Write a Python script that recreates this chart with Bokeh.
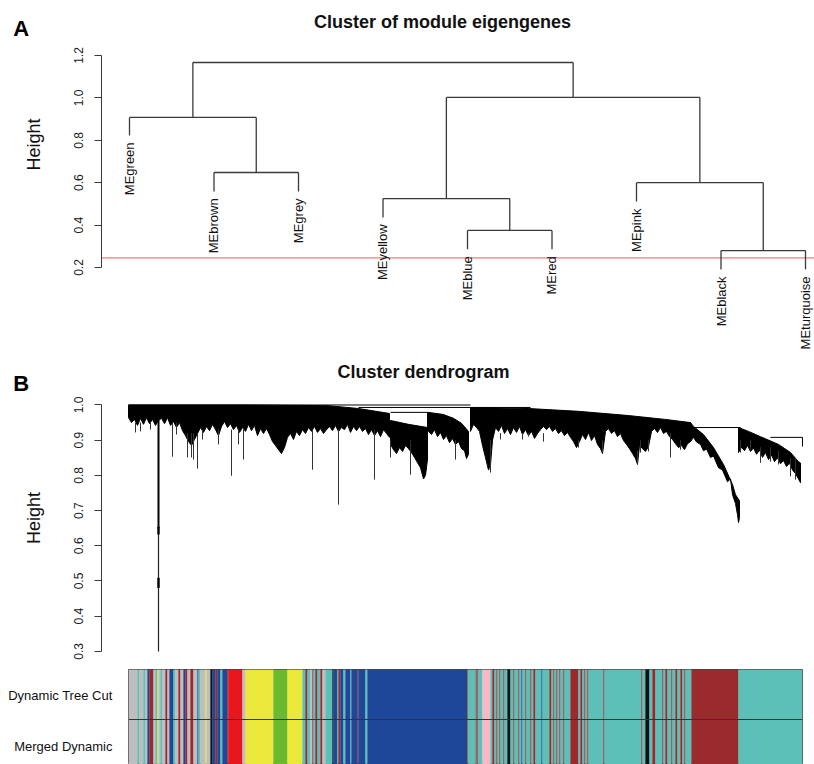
import math
from bokeh.plotting import figure
from bokeh.models import Range1d, FixedTicker, Span, LinearAxis
from bokeh.layouts import column
from bokeh.embed import file_html
from bokeh.resources import INLINE
from bokeh.core.properties import value

FONT = "Liberation Sans"

# ---------------- Panel A : module eigengene dendrogram ----------------
me_names = ["MEgreen", "MEbrown", "MEgrey", "MEyellow", "MEblue", "MEred",
            "MEpink", "MEblack", "MEturquoise"]
me_leaf_end = [0.823, 0.559, 0.559, 0.436, 0.286, 0.286, 0.511, 0.191, 0.191]
merge_a = [-2, -1, -5, -4, -8, -7, 4, 2]
merge_b = [-3, 1, -6, 3, -9, 5, 6, 7]
merge_height = [0.648, 0.908, 0.375, 0.525, 0.280, 0.600, 1.002, 1.167]
cut_height = 0.245
a_ticks = [0.2, 0.4, 0.6, 0.8, 1.0, 1.2]
a_tick_labels = ["0.2", "0.4", "0.6", "0.8", "1.0", "1.2"]

# ---------------- Panel B : gene dendrogram (dense leaf mass) ----------------
c1_top = [(0, 1.000), (120, 1.000), (200, 0.998), (230, 0.990), (261, 0.976)]
c1_bot = [(0, 0.964), (3, 0.950), (6, 0.959), (9, 0.942), (12, 0.962), (15, 0.945), (18, 0.964),
          (21, 0.947), (24, 0.959), (27, 0.942), (30, 0.956), (33, 0.962), (36, 0.947), (39, 0.964),
          (42, 0.942), (45, 0.953), (48, 0.936), (51, 0.950), (54, 0.927), (57, 0.913), (60, 0.896),
          (63, 0.885), (66, 0.902), (69, 0.919), (72, 0.936), (75, 0.922), (78, 0.939), (81, 0.927),
          (84, 0.945), (87, 0.930), (90, 0.913), (93, 0.939), (96, 0.953), (99, 0.936), (102, 0.947),
          (105, 0.930), (108, 0.942), (111, 0.922), (114, 0.936), (117, 0.925), (120, 0.945),
          (123, 0.927), (126, 0.942), (129, 0.913), (132, 0.933), (135, 0.919), (138, 0.933),
          (141, 0.916), (144, 0.896), (147, 0.885), (150, 0.873), (153, 0.862), (156, 0.879),
          (159, 0.908), (162, 0.919), (165, 0.902), (168, 0.925), (171, 0.913), (174, 0.930),
          (177, 0.919), (180, 0.936), (183, 0.925), (186, 0.939), (189, 0.922), (192, 0.933),
          (195, 0.919), (198, 0.930), (201, 0.939), (204, 0.927), (207, 0.942), (210, 0.925),
          (213, 0.936), (216, 0.930), (219, 0.945), (222, 0.922), (225, 0.939), (228, 0.927),
          (231, 0.939), (234, 0.925), (237, 0.933), (240, 0.916), (243, 0.930), (246, 0.913),
          (249, 0.927), (252, 0.910), (255, 0.930), (258, 0.919), (261, 0.908)]
c2_top = [(262, 0.956), (280, 0.945), (299, 0.936)]
c2_bot = [(262, 0.888), (265, 0.873), (268, 0.862), (271, 0.879), (274, 0.868), (277, 0.885),
          (280, 0.876), (283, 0.865), (286, 0.851), (289, 0.836), (292, 0.822), (295, 0.790),
          (297, 0.800), (299, 0.845)]
c3_top = [(300, 0.979), (315, 0.973), (325, 0.962), (333, 0.948), (340, 0.925)]
c3_bot = [(300, 0.925), (303, 0.916), (306, 0.930), (309, 0.910), (312, 0.922), (315, 0.902),
          (318, 0.913), (321, 0.893), (324, 0.905), (327, 0.888), (330, 0.896), (333, 0.876),
          (336, 0.870), (338, 0.848), (340, 0.860)]
c4_top = [(342, 0.993), (400, 0.990), (450, 0.982), (500, 0.970), (537, 0.959), (562, 0.950)]
c4_bot = [(342, 0.925), (345, 0.945), (348, 0.936), (351, 0.925), (354, 0.885), (357, 0.850),
          (360, 0.815), (362, 0.830), (364, 0.900), (367, 0.936), (370, 0.925), (373, 0.942),
          (376, 0.919), (379, 0.933), (382, 0.916), (385, 0.936), (388, 0.922), (391, 0.939),
          (394, 0.916), (397, 0.930), (400, 0.913), (403, 0.925), (406, 0.905), (409, 0.919),
          (412, 0.930), (415, 0.939), (418, 0.930), (421, 0.939), (424, 0.925), (427, 0.933),
          (430, 0.919), (433, 0.927), (436, 0.913), (439, 0.922), (442, 0.908), (445, 0.896),
          (448, 0.879), (451, 0.896), (454, 0.916), (457, 0.902), (460, 0.922), (463, 0.899),
          (466, 0.913), (469, 0.888), (472, 0.876), (474, 0.862), (477, 0.925), (480, 0.933),
          (483, 0.919), (486, 0.927), (489, 0.910), (492, 0.919), (495, 0.899), (498, 0.888),
          (501, 0.876), (504, 0.862), (507, 0.848), (509, 0.831), (511, 0.885), (514, 0.876),
          (517, 0.868), (520, 0.882), (523, 0.925), (526, 0.933), (529, 0.922), (532, 0.936),
          (535, 0.919), (538, 0.925), (541, 0.910), (544, 0.902), (547, 0.890), (550, 0.879),
          (553, 0.885), (556, 0.873), (559, 0.890), (562, 0.896)]
c5_top = [(562, 0.950), (565, 0.939), (575, 0.916), (585, 0.879), (595, 0.831), (604, 0.774),
          (607, 0.745), (611, 0.728)]
c5_bot = [(562, 0.896), (565, 0.908), (568, 0.895), (572, 0.888), (575, 0.870), (578, 0.875),
          (582, 0.851), (585, 0.855), (590, 0.822), (594, 0.815), (599, 0.782), (602, 0.790),
          (604, 0.745), (607, 0.720), (609, 0.688), (610, 0.666), (611, 0.680)]
c6_top = [(610, 0.936), (620, 0.925), (632, 0.910), (650, 0.888), (662, 0.865), (670, 0.839),
          (672, 0.835)]
c6_bot = [(610, 0.865), (613, 0.880), (616, 0.870), (619, 0.885), (622, 0.868), (625, 0.878),
          (628, 0.860), (631, 0.872), (634, 0.851), (637, 0.865), (640, 0.845), (643, 0.858),
          (646, 0.839), (649, 0.850), (652, 0.833), (655, 0.842), (658, 0.825), (661, 0.835),
          (664, 0.815), (667, 0.805), (670, 0.790), (672, 0.779)]

spike_x = [7, 12, 22, 44, 48, 59, 63, 65, 69, 74, 90, 103, 110, 115, 184, 210, 246, 262, 282,
           327, 362, 372, 394, 400, 415, 450, 474, 509, 512, 520, 542, 552, 612, 622, 632, 642,
           650, 662, 667]
spike_top = [0.95, 0.95, 0.95, 0.95, 0.95, 0.92, 0.92, 0.92, 0.92, 0.93, 0.93, 0.93, 0.93, 0.93,
             0.93, 0.93, 0.93, 0.90, 0.90, 0.90, 0.90, 0.92, 0.92, 0.92, 0.92, 0.90, 0.90, 0.87,
             0.90, 0.90, 0.92, 0.90, 0.90, 0.90, 0.88, 0.88, 0.87, 0.85, 0.85]
spike_bot = [0.922, 0.925, 0.930, 0.853, 0.916, 0.851, 0.851, 0.845, 0.819, 0.902, 0.888, 0.799,
             0.888, 0.845, 0.816, 0.717, 0.788, 0.851, 0.802, 0.845, 0.808, 0.902, 0.902, 0.910,
             0.896, 0.879, 0.865, 0.831, 0.865, 0.868, 0.851, 0.873, 0.865, 0.873, 0.836, 0.839,
             0.831, 0.797, 0.788]

# the single outlier branch that hangs down to 0.3
outlier_x = 30
outlier_top = 1.0
outlier_mid = 0.650
outlier_bot = 0.300
outlier_knots = [(0.632, 0.654), (0.480, 0.509)]

merge_line_x0 = [0, 230, 262, 565, 642, 282, 282, 282, 282, 282]
merge_line_x1 = [342, 402, 300, 612, 674, 299, 299, 299, 299, 299]
merge_line_h = [1.000, 0.993, 0.979, 0.936, 0.908, 0.936, 0.922, 0.908, 0.893, 0.879]
drop_x = [299, 674]
drop_top = [0.979, 0.908]
drop_bot = [0.879, 0.882]
b_ticks = [0.3, 0.4, 0.5, 0.6, 0.7, 0.8, 0.9, 1.0]
b_tick_labels = ["0.3", "0.4", "0.5", "0.6", "0.7", "0.8", "0.9", "1.0"]

# ---------------- Colour rows ----------------
module_palette = {"grey": "#bebebe", "turquoise": "#5cc0b8", "blue": "#1d4899",
                  "brown": "#9b2a2c", "yellow": "#ece83a", "green": "#6ab92f",
                  "red": "#e8161d", "black": "#111111", "pink": "#f5bac5",
                  "orange": "#a0622a", "tan": "#8d6b6b"}
seg_start = [0, 9, 11, 15, 17, 19, 21, 25, 27, 29, 30, 32, 34, 37, 39, 41, 45, 47, 50, 52, 55,
             57, 59, 62, 65, 69, 70, 72, 77, 78, 82, 84, 87, 89, 92, 94, 99, 100, 114, 117, 145,
             159, 174, 177, 179, 182, 184, 185, 187, 189, 192, 194, 197, 204, 205, 209, 210, 212,
             215, 217, 222, 223, 229, 230, 237, 239, 339, 340, 347, 350, 354, 362, 364, 366, 368,
             369, 371, 372, 375, 376, 379, 382, 385, 386, 390, 391, 393, 394, 397, 398, 402, 403,
             405, 407, 413, 414, 421, 423, 425, 426, 428, 429, 431, 432, 435, 436, 442, 450, 452,
             454, 456, 457, 459, 460, 475, 476, 513, 514, 517, 521, 524, 527, 534, 535, 537, 539,
             543, 544, 547, 549, 552, 554, 556, 557, 563, 610]
seg_module = ["grey", "turquoise", "grey", "turquoise", "grey", "blue", "brown", "grey",
              "turquoise", "yellow", "grey", "turquoise", "grey", "brown", "grey", "blue",
              "turquoise", "grey", "brown", "grey", "blue", "brown", "grey", "brown", "grey",
              "blue", "turquoise", "grey", "yellow", "grey", "black", "blue", "brown", "blue",
              "turquoise", "blue", "brown", "red", "grey", "yellow", "green", "yellow",
              "turquoise", "brown", "turquoise", "grey", "brown", "turquoise", "brown",
              "turquoise", "brown", "grey", "turquoise", "black", "blue", "turquoise", "brown",
              "blue", "turquoise", "blue", "turquoise", "blue", "brown", "blue", "turquoise",
              "blue", "orange", "turquoise", "tan", "turquoise", "pink", "turquoise", "brown",
              "turquoise", "brown", "turquoise", "brown", "turquoise", "brown", "turquoise",
              "black", "turquoise", "brown", "turquoise", "brown", "turquoise", "blue",
              "turquoise", "brown", "turquoise", "brown", "turquoise", "brown", "turquoise",
              "blue", "turquoise", "brown", "turquoise", "brown", "turquoise", "brown",
              "turquoise", "brown", "turquoise", "brown", "turquoise", "brown", "turquoise",
              "brown", "turquoise", "brown", "turquoise", "brown", "turquoise", "brown",
              "turquoise", "brown", "turquoise", "black", "turquoise", "brown", "turquoise",
              "brown", "turquoise", "brown", "turquoise", "brown", "turquoise", "brown",
              "turquoise", "brown", "turquoise", "brown", "turquoise", "brown", "turquoise"]
seg_end_last = 674
row_names = ["Merged Dynamic", "Dynamic Tree Cut"]

# ---------------- panel texts ----------------
panel_letters = ["A", "B"]
panel_titles = ["Cluster of module eigengenes", "Cluster dendrogram"]
axis_title = "Height"

LINE = "#3a3a3a"
TXT = "#111111"


def add_height_axis(p, loc, ticks, labels, bounds, label_span):
    ax = LinearAxis(fixed_location=loc)
    ax.bounds = bounds
    ax.ticker = FixedTicker(ticks=ticks)
    ax.major_label_overrides = {t: l for t, l in zip(ticks, labels)}
    ax.major_label_orientation = "vertical"
    ax.major_tick_out = 7
    ax.major_tick_in = 0
    ax.minor_tick_out = 0
    ax.minor_tick_in = 0
    ax.axis_line_color = LINE
    ax.major_tick_line_color = LINE
    ax.major_label_text_font = FONT
    ax.major_label_text_font_size = "12px"
    ax.major_label_text_color = "#222222"
    ax.major_label_standoff = 11
    p.add_layout(ax, "left")
    # separate label-only axis so that "Height" is centred like R's plot region
    lab = LinearAxis(fixed_location=loc)
    lab.bounds = label_span
    lab.ticker = FixedTicker(ticks=[])
    lab.axis_line_color = None
    lab.major_tick_line_color = None
    lab.minor_tick_line_color = None
    lab.major_tick_out = 0
    lab.minor_tick_out = 0
    lab.axis_label = axis_title
    lab.axis_label_text_font = FONT
    lab.axis_label_text_font_size = "18px"
    lab.axis_label_text_font_style = "normal"
    lab.axis_label_text_color = TXT
    lab.axis_label_standoff = 58
    p.add_layout(lab, "left")


def base(w, h, xr, yr, **kw):
    p = figure(width=w, height=h, x_range=xr, y_range=yr, output_backend="svg",
               toolbar_location=None, frame_align=False, **kw)
    p.grid.visible = False
    p.outline_line_color = None
    p.xaxis.visible = False
    p.background_fill_color = "white"
    p.border_fill_color = "white"
    p.min_border_left = 0
    p.min_border_right = 0
    p.min_border_top = 0
    p.min_border_bottom = 0
    return p


def add_panel_text(p, letter, lx, ly, title, tx, ty):
    p.text(x=[lx], y=[ly], text=[letter], text_font=value(FONT), text_font_size="22px",
           text_font_style="bold", text_color="black", text_align="left",
           text_baseline="alphabetic")
    p.text(x=[tx], y=[ty], text=[title], text_font=value(FONT), text_font_size="18px",
           text_font_style="bold", text_color=TXT, text_align="center",
           text_baseline="alphabetic")


# ---------------- build A ----------------
ax_a = 0.6686
pA = base(814, 360, Range1d(-0.5266, 9.1065), Range1d(-0.2387, 1.4594), y_axis_location=None)
add_height_axis(pA, ax_a, a_ticks, a_tick_labels, (0.2, 1.2), (0.58, 0.98))

leaf_x = list(range(1, len(me_names) + 1))
node_x = []
sx0, sy0, sx1, sy1 = [], [], [], []


def node_pos(i):
    if i < 0:
        return leaf_x[-i - 1], me_leaf_end[-i - 1]
    return node_x[i - 1], merge_height[i - 1]


for a, b, h in zip(merge_a, merge_b, merge_height):
    xa, ha = node_pos(a)
    xb, hb = node_pos(b)
    node_x.append((xa + xb) / 2)
    sx0 += [xa, xb, xa]
    sy0 += [ha, hb, h]
    sx1 += [xa, xb, xb]
    sy1 += [h, h, h]

pA.segment(x0=[ax_a], y0=[cut_height], x1=[pA.x_range.end], y1=[cut_height],
           line_color="#f3a0a0", line_width=1.8)
pA.segment(x0=sx0, y0=sy0, x1=sx1, y1=sy1, line_color=LINE, line_width=1.3)
pA.text(x=leaf_x, y=me_leaf_end, text=me_names, angle=math.pi / 2, text_align="right",
        text_baseline="middle", y_offset=7, text_font=value(FONT), text_font_size="13px",
        text_color=TXT)
add_panel_text(pA, panel_letters[0], -0.376, 1.326, panel_titles[0], 4.704, 1.356)

# ---------------- build B ----------------
ax_b = -27
pB = base(814, 300, Range1d(-128, 686), Range1d(0.2741, 1.1264), y_axis_location=None)
add_height_axis(pB, ax_b, b_ticks, b_tick_labels, (0.3, 1.0), (0.478, 0.878))

xs, ys = [], []
for top, bot in [(c1_top, c1_bot), (c2_top, c2_bot), (c3_top, c3_bot), (c4_top, c4_bot),
                 (c5_top, c5_bot), (c6_top, c6_bot)]:
    pts = bot + top[::-1]
    xs.append([q[0] for q in pts])
    ys.append([q[1] for q in pts])
pB.patches(xs=xs, ys=ys, fill_color="black", line_color="black", line_width=1)
pB.segment(x0=spike_x, y0=spike_top, x1=spike_x, y1=spike_bot, line_color="#333333",
           line_width=1)
pB.segment(x0=[outlier_x], y0=[outlier_top], x1=[outlier_x], y1=[outlier_mid],
           line_color="black", line_width=2)
pB.segment(x0=[outlier_x], y0=[outlier_mid], x1=[outlier_x], y1=[outlier_bot],
           line_color="#222222", line_width=1.2)
pB.quad(left=[outlier_x - 1.2] * 2, right=[outlier_x + 1.2] * 2,
        bottom=[k[0] for k in outlier_knots], top=[k[1] for k in outlier_knots],
        fill_color="black", line_color=None)
pB.segment(x0=merge_line_x0, y0=merge_line_h, x1=merge_line_x1, y1=merge_line_h,
           line_color="black", line_width=1)
pB.segment(x0=drop_x, y0=drop_top, x1=drop_x, y1=drop_bot, line_color="black", line_width=1)
add_panel_text(pB, panel_letters[1], -115.3, 1.061, panel_titles[1], 295, 1.093)

# ---------------- build colour rows ----------------
pC = base(814, 104, Range1d(0, 674), Range1d(0.1, 2.0))
pC.min_border_left = 128
pC.min_border_right = 12
pC.min_border_top = 9
pC.outline_line_color = "#444444"
pC.outline_line_width = 1
seg_end = seg_start[1:] + [seg_end_last]
cols = [module_palette[m] for m in seg_module]
for row_bottom in (0, 1):
    pC.quad(left=seg_start, right=seg_end, bottom=[row_bottom] * len(seg_start),
            top=[row_bottom + 1] * len(seg_start), fill_color=cols, line_color=cols,
            line_width=0.3)
pC.add_layout(Span(location=1, dimension="width", line_color="#333333", line_width=1.2))
ay = pC.yaxis[0]
ay.ticker = FixedTicker(ticks=[0.46, 1.48])
ay.major_label_overrides = {0.46: row_names[0], 1.48: row_names[1]}
ay.axis_line_color = None
ay.major_tick_line_color = None
ay.minor_tick_line_color = None
ay.major_label_text_font = FONT
ay.major_label_text_font_size = "13px"
ay.major_label_text_color = TXT
ay.major_label_standoff = 10

layout = column(pA, pB, pC, spacing=0)
open("out.html", "w").write(file_html(layout, INLINE))
